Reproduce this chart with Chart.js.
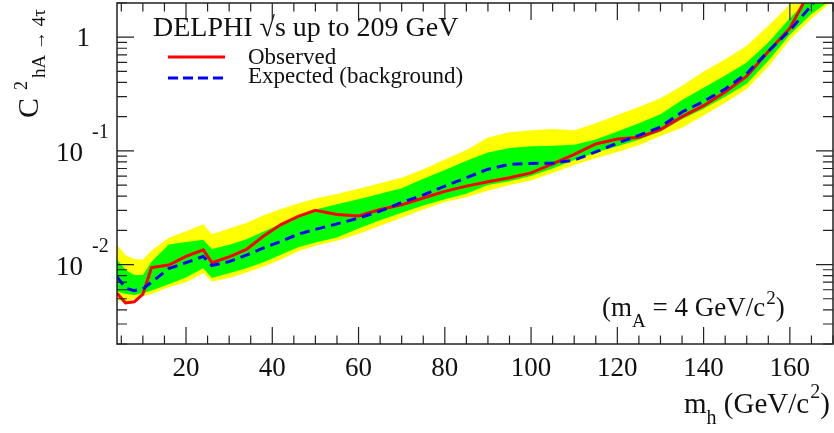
<!DOCTYPE html>
<html>
<head>
<meta charset="utf-8">
<title>DELPHI hA → 4τ limit</title>
<script src="https://cdn.jsdelivr.net/npm/chart.js@4.4.1/dist/chart.umd.min.js"></script>
<style>
    html, body { margin: 0; padding: 0; background: #fff; }
    #wrap { width: 834px; height: 433px; position: relative; }
</style>
</head>
<body>
<div id="wrap"><canvas id="limitChart"></canvas></div>
<script>
// ============================================
// C^2(hA -> 4tau) exclusion, m_A = 4 GeV/c^2
// ============================================

const massPoints = [4, 6, 8, 10, 12, 16, 20, 24, 26, 30, 34, 38, 42, 46, 50, 55, 60, 65, 70, 75,
    80, 85, 90, 95, 100, 105, 110, 115, 120, 125, 130, 135, 140, 145, 150, 155, 160, 165, 170];

const observed = [0.0056, 0.0046, 0.0047, 0.0055, 0.0094, 0.0099, 0.0118, 0.0135, 0.0104, 0.0117,
    0.0136, 0.0178, 0.0225, 0.0265, 0.0300, 0.0276, 0.0268, 0.0305, 0.0335, 0.0385,
    0.0440, 0.0490, 0.0535, 0.0580, 0.0640, 0.0770, 0.0930, 0.1150, 0.1270, 0.1320,
    0.1540, 0.2000, 0.2500, 0.3300, 0.4550, 0.7500, 1.2000, 2.7000, null];

const expected = [0.0078, 0.0062, 0.0059, 0.0061, 0.0070, 0.0092, 0.0104, 0.0118, 0.0098, 0.0106,
    0.0121, 0.0140, 0.0160, 0.0185, 0.0204, 0.0228, 0.0256, 0.0295, 0.0352, 0.0410,
    0.0490, 0.0580, 0.0690, 0.0760, 0.0776, 0.0780, 0.0830, 0.0980, 0.1170, 0.1370,
    0.1620, 0.2200, 0.2720, 0.3500, 0.4800, 0.7500, 1.1500, 1.9000, 3.3000];

const sigma1Low = [0.0058, 0.0055, 0.0054, 0.0056, 0.0059, 0.0067, 0.0077, 0.0093, 0.0076, 0.0084,
    0.0093, 0.0105, 0.0122, 0.0142, 0.0156, 0.0173, 0.0208, 0.0245, 0.0285, 0.0330,
    0.0375, 0.0420, 0.0500, 0.0540, 0.0600, 0.0700, 0.0830, 0.0970, 0.1100, 0.1250,
    0.1480, 0.1900, 0.2350, 0.3000, 0.3900, 0.6200, 1.0500, 1.6000, 2.2000];

const sigma1High = [0.0110, 0.0090, 0.0081, 0.0081, 0.0106, 0.0150, 0.0158, 0.0165, 0.0137, 0.0149,
    0.0167, 0.0195, 0.0228, 0.0268, 0.0305, 0.0340, 0.0375, 0.0420, 0.0470, 0.0570,
    0.0680, 0.0820, 0.0970, 0.1060, 0.1100, 0.1110, 0.1130, 0.1260, 0.1480, 0.1750,
    0.2100, 0.2800, 0.3600, 0.4600, 0.6000, 0.9000, 1.4700, 2.3000, 3.5000];

const sigma2Low = [0.0049, 0.0046, 0.0050, 0.0053, 0.0055, 0.0063, 0.0070, 0.0084, 0.0071, 0.0076,
    0.0085, 0.0096, 0.0111, 0.0131, 0.0146, 0.0162, 0.0186, 0.0220, 0.0258, 0.0305,
    0.0355, 0.0390, 0.0445, 0.0500, 0.0550, 0.0640, 0.0750, 0.0860, 0.0980, 0.1120,
    0.1350, 0.1600, 0.2050, 0.2650, 0.3500, 0.5500, 0.9500, 1.4500, 2.1000];

const sigma2High = [0.0149, 0.0121, 0.0112, 0.0110, 0.0133, 0.0172, 0.0196, 0.0226, 0.0185, 0.0208,
    0.0232, 0.0272, 0.0308, 0.0345, 0.0382, 0.0417, 0.0465, 0.0520, 0.0580, 0.0690,
    0.0840, 0.1020, 0.1310, 0.1460, 0.1520, 0.1560, 0.1520, 0.1750, 0.2070, 0.2430,
    0.2900, 0.3750, 0.5000, 0.6400, 0.8400, 1.2600, 1.9500, 3.0000, 4.5000];

const xTickLabels = [20, 40, 60, 80, 100, 120, 140, 160];
const yDecades = [0, -1, -2];

const SERIF = '"Liberation Serif", "Times New Roman", serif';

function points(values) {
    return massPoints.map((m, i) => ({ x: m, y: values[i] }));
}

function band(values, color, order, fill) {
    return {
        data: points(values), borderColor: 'rgba(0,0,0,0)', borderWidth: 0,
        backgroundColor: color, fill: fill, pointRadius: 0, tension: 0, order: order,
    };
}

function text(ctx, str, x, y, size, align) {
    ctx.font = size + 'px ' + SERIF;
    ctx.textAlign = align || 'left';
    ctx.fillText(str, x, y);
    return ctx.measureText(str).width;
}

// frame, inward ticks and all ROOT-style labels
const rootAxes = {
    id: 'rootAxes',
    afterDraw(chart) {
        const { ctx, chartArea: a, scales: { x, y } } = chart;
        ctx.save();
        ctx.strokeStyle = '#222';
        ctx.fillStyle = '#111';
        ctx.lineWidth = 1.5;
        ctx.strokeRect(a.left, a.top, a.right - a.left, a.bottom - a.top);

        ctx.lineWidth = 1.2;
        ctx.beginPath();
        for (let m = 5; m <= x.max; m += 5) {
            const px = x.getPixelForValue(m);
            const len = m % 20 === 0 ? 17 : 8.5;
            ctx.moveTo(px, a.bottom); ctx.lineTo(px, a.bottom - len);
            ctx.moveTo(px, a.top); ctx.lineTo(px, a.top + len);
        }
        for (let d = -3; d <= 0; d++) {
            for (let k = 1; k <= 9; k++) {
                const v = k * Math.pow(10, d);
                if (v < y.min || v > y.max) continue;
                const py = y.getPixelForValue(v);
                const len = k === 1 ? 17 : 10;
                ctx.moveTo(a.left, py); ctx.lineTo(a.left + len, py);
                ctx.moveTo(a.right, py); ctx.lineTo(a.right - len, py);
            }
        }
        ctx.stroke();

        ctx.textBaseline = 'alphabetic';
        xTickLabels.forEach(v => text(ctx, String(v), x.getPixelForValue(v), 376, 27, 'center'));

        yDecades.forEach(d => {
            const py = y.getPixelForValue(Math.pow(10, d));
            if (d === 0) {
                text(ctx, '1', 90, py + 9, 27, 'right');
            } else {
                text(ctx, '10', 83, py + 10, 27, 'right');
                text(ctx, String(d), 92, py - 13, 20, 'left');
            }
        });

        // x title: m_h (GeV/c^2)
        let cx = 684;
        cx += text(ctx, 'm', cx, 413, 29);
        cx += text(ctx, 'h', cx, 424, 20);
        cx += text(ctx, ' (GeV/c', cx, 413, 29);
        cx += text(ctx, '2', cx + 1, 398, 20) + 1;
        text(ctx, ')', cx, 413, 29);

        // y title: C^2_{hA -> 4tau}
        ctx.save();
        ctx.translate(38, 118);
        ctx.rotate(-Math.PI / 2);
        text(ctx, 'C', 0, 0, 30);
        text(ctx, '2', 28, -11, 18);
        text(ctx, 'hA \u2192 4\u03c4', 40, 7, 19);
        ctx.restore();

        // annotation: (m_A = 4 GeV/c^2)
        cx = 602;
        cx += text(ctx, '(m', cx, 316, 27);
        cx += text(ctx, 'A', cx, 327, 19);
        cx += text(ctx, ' = 4 GeV/c', cx, 316, 27);
        cx += text(ctx, '2', cx + 1, 304, 19) + 1;
        text(ctx, ')', cx, 316, 27);

        // legend
        text(ctx, 'DELPHI \u221as up to 209 GeV', 153, 36, 28);
        ctx.lineWidth = 3;
        ctx.strokeStyle = '#ff0000';
        ctx.beginPath(); ctx.moveTo(168, 57); ctx.lineTo(225, 57); ctx.stroke();
        ctx.strokeStyle = '#0000ff';
        ctx.setLineDash([10, 5]);
        ctx.beginPath(); ctx.moveTo(168, 78); ctx.lineTo(225, 78); ctx.stroke();
        ctx.setLineDash([]);
        text(ctx, 'Observed', 248, 64, 23);
        text(ctx, 'Expected (background)', 248, 83, 23);
        ctx.restore();
    }
};

function renderLimitChart() {
    const ctx = document.getElementById('limitChart');
    new Chart(ctx, {
        type: 'line',
        data: {
            datasets: [
                band(sigma2Low, '#ffff00', 4, false),
                band(sigma2High, '#ffff00', 4, '-1'),
                band(sigma1Low, '#00ff00', 3, false),
                band(sigma1High, '#00ff00', 3, '-1'),
                {
                    label: 'Observed', data: points(observed), borderColor: '#ff0000', borderWidth: 3,
                    pointRadius: 0, tension: 0, fill: false, order: 1,
                },
                {
                    label: 'Expected (background)', data: points(expected), borderColor: '#0000ff', borderWidth: 3,
                    borderDash: [10, 6], pointRadius: 0, tension: 0, fill: false, order: 0,
                },
            ]
        },
        options: {
            responsive: true, maintainAspectRatio: false, animation: false,
            layout: { padding: { left: 117, top: 3, right: 1, bottom: 89 } },
            plugins: { legend: { display: false }, tooltip: { enabled: false } },
            scales: {
                x: { type: 'linear', min: 4, max: 170, display: false },
                y: { type: 'logarithmic', min: 0.002, max: 2, display: false },
            }
        },
        plugins: [rootAxes]
    });
}

document.addEventListener('DOMContentLoaded', renderLimitChart);
</script>
</body>
</html>
